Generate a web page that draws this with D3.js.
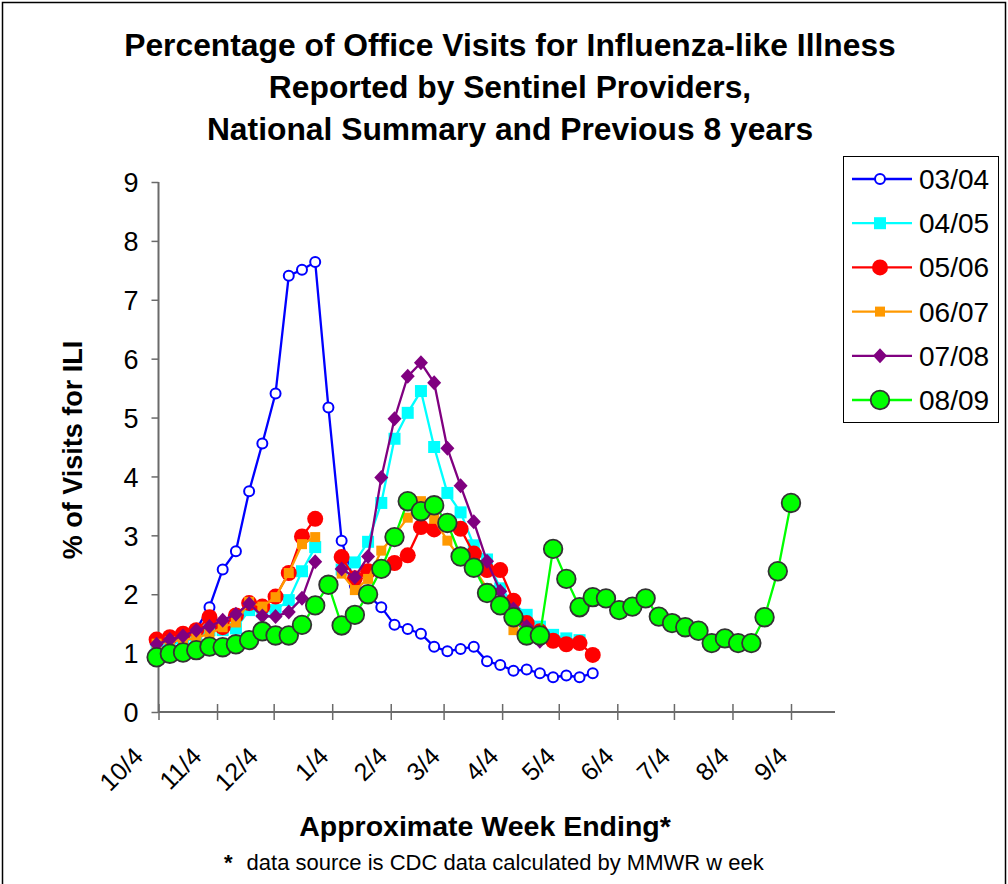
<!DOCTYPE html>
<html>
<head>
<meta charset="utf-8">
<script src="https://cdn.jsdelivr.net/npm/d3@7"></script>
<style>
  html, body { margin: 0; padding: 0; background: #fff; }
  svg { display: block; font-family: "Liberation Sans", Arial, sans-serif; }
</style>
</head>
<body>
<svg id="chart" width="1008" height="884"></svg>
<script>
// Season labels (legend order)
const seasons = ["03/04", "04/05", "05/06", "06/07", "07/08", "08/09"];

// Weekly % ILI, one value per MMWR week starting early October; null = no report
const ili0304 = [1.15, 1.20, 1.30, 1.40, 1.78, 2.42, 2.73, 3.75, 4.56, 5.41, 7.41, 7.51, 7.64, 5.17, 2.91,
  2.15, 1.98, 1.78, 1.48, 1.41, 1.33, 1.11, 1.03, 1.07, 1.11, 0.86, 0.80, 0.70, 0.72, 0.66, 0.59, 0.62, 0.59, 0.66];
const ili0405 = [1.10, 1.15, 1.20, 1.25, 1.39, 1.39, 1.42, 1.73, 1.70, 1.73, 1.90, 2.39, 2.80, null, 2.42,
  2.54, 2.89, 3.55, 4.64, 5.08, 5.45, 4.50, 3.72, 3.39, 2.83, 2.59, 2.10, 1.85, 1.65, 1.45, 1.31, 1.25, 1.22];
const ili0506 = [1.23, 1.27, 1.33, 1.39, 1.61, 1.44, 1.64, 1.85, 1.79, 1.96, 2.36, 2.98, 3.28, null, 2.63,
  2.27, 2.39, 2.46, 2.53, 2.66, 3.14, 3.10, 3.18, 3.11, 2.69, 2.41, 2.41, 1.89, 1.51, 1.37, 1.21, 1.15, 1.17, 0.97];
const ili0607 = [1.16, 1.20, 1.22, 1.26, 1.33, 1.44, 1.52, 1.87, 1.79, 1.95, 2.36, 2.85, 2.97, null, 2.35,
  2.07, 2.26, 2.74, 3.00, 3.30, 3.58, 3.28, 2.91, 2.60, 2.45, 2.10, 1.80, 1.39];
const ili0708 = [1.15, 1.23, 1.29, 1.39, 1.45, 1.56, 1.66, 1.84, 1.63, 1.62, 1.70, 1.93, 2.55, null, 2.43,
  2.29, 2.64, 3.98, 4.98, 5.70, 5.93, 5.59, 4.48, 3.84, 3.23, 2.56, 2.05, 1.75, 1.45, 1.20];
const ili0809 = [0.93, 0.99, 1.01, 1.05, 1.11, 1.10, 1.15, 1.22, 1.37, 1.30, 1.30, 1.48, 1.81, 2.16, 1.47,
  1.65, 2.00, 2.43, 2.97, 3.58, 3.41, 3.51, 3.21, 2.64, 2.45, 2.02, 1.81, 1.61, 1.30, 1.30, 2.77, 2.26, 1.78,
  1.95, 1.93, 1.73, 1.79, 1.93, 1.62, 1.51, 1.44, 1.38, 1.17, 1.25, 1.17, 1.17, 1.61, 2.39, 3.55];

// Month tick labels along the date axis
const monthLabels = ["10/4", "11/4", "12/4", "1/4", "2/4", "3/4", "4/4", "5/4", "6/4", "7/4", "8/4", "9/4"];
const yTicks = [0, 1, 2, 3, 4, 5, 6, 7, 8, 9];

const firstWeek = new Date(2008, 9, 3);
const monthDates = monthLabels.map(m => {
  const [mo, d] = m.split("/").map(Number);
  return new Date(mo >= 10 ? 2008 : 2009, mo - 1, d);
});

const styles = [
  { color: "#0000FF", shape: "hollow", r: 5 },
  { color: "#00FFFF", shape: "square", size: 12 },
  { color: "#FF0000", shape: "circle", r: 8 },
  { color: "#FF9900", shape: "square", size: 10 },
  { color: "#800080", shape: "diamond", size: 10 },
  { color: "#00FF00", shape: "ring", r: 9.3 }
];
const seriesValues = [ili0304, ili0405, ili0506, ili0607, ili0708, ili0809];

const svg = d3.select("#chart");

// outer frame
svg.append("rect").attr("x", 2.5).attr("y", 2.5).attr("width", 1003).attr("height", 900)
  .attr("fill", "none").attr("stroke", "#000").attr("stroke-width", 1.5);

// title
const titleLines = ["Percentage of Office Visits for Influenza-like Illness",
  "Reported by Sentinel Providers,",
  "National Summary and Previous 8 years"];
svg.append("g").selectAll("text").data(titleLines).join("text")
  .attr("x", 510).attr("y", (d, i) => 56 + i * 42)
  .attr("text-anchor", "middle").attr("font-weight", "bold").attr("font-size", 31.8)
  .text(d => d);

const x = d3.scaleTime().domain([monthDates[0], monthDates[monthDates.length - 1]]).range([158.5, 791]);
const y = d3.scaleLinear().domain([0, 9]).range([712, 182]);
const xEnd = 835;

const axisColor = "#6a6a6a";

// y axis
const yAxis = svg.append("g").attr("transform", "translate(158.5,0)")
  .call(d3.axisLeft(y).tickValues(yTicks).tickSize(7).tickFormat(d3.format("d")));
yAxis.select(".domain").attr("stroke", axisColor).attr("stroke-width", 2).attr("d", `M0,${y(9)}V${y(0)}`);
yAxis.selectAll(".tick line").attr("stroke", axisColor).attr("stroke-width", 1.5);
yAxis.selectAll(".tick text").attr("font-size", 27).attr("font-family", "Liberation Sans, Arial, sans-serif")
  .attr("fill", "#000").attr("x", -20).attr("dy", "0.36em");

// x axis
const xAxis = svg.append("g").attr("transform", `translate(0,${y(0)})`)
  .call(d3.axisBottom(x).tickValues(monthDates).tickSizeInner(7).tickSizeOuter(0).tickFormat(""));
xAxis.select(".domain").attr("stroke", axisColor).attr("stroke-width", 2).attr("d", `M158.5,0H${xEnd}`);
xAxis.selectAll(".tick line").attr("stroke", axisColor).attr("stroke-width", 1.5).attr("y1", -8).attr("y2", 8);

svg.append("g").selectAll("text").data(monthDates).join("text")
  .attr("transform", (d, i) => `translate(${x(d) - (monthLabels[i].length > 3 ? 14 : 2)},${y(0) + 46}) rotate(-45)`)
  .attr("text-anchor", "end").attr("font-size", 25)
  .text((d, i) => monthLabels[i]);

// axis titles
svg.append("text").attr("transform", "translate(82,450) rotate(-90)")
  .attr("text-anchor", "middle").attr("font-weight", "bold").attr("font-size", 27)
  .text("% of Visits for ILI");
svg.append("text").attr("x", 485).attr("y", 836)
  .attr("text-anchor", "middle").attr("font-weight", "bold").attr("font-size", 28.5)
  .text("Approximate Week Ending*");
const foot = svg.append("text").attr("x", 224).attr("y", 870).attr("font-size", 22);
foot.append("tspan").attr("font-weight", "bold").text("*");
foot.append("tspan").attr("dx", 14).text("data source is CDC data calculated by MMWR w eek");

// markers
function drawMarker(g, st, cx, cy) {
  if (st.shape === "hollow") {
    g.append("circle").attr("cx", cx).attr("cy", cy).attr("r", st.r)
      .attr("fill", "#fff").attr("stroke", st.color).attr("stroke-width", 2);
  } else if (st.shape === "square") {
    g.append("rect").attr("x", cx - st.size / 2).attr("y", cy - st.size / 2)
      .attr("width", st.size).attr("height", st.size).attr("fill", st.color);
  } else if (st.shape === "circle") {
    g.append("circle").attr("cx", cx).attr("cy", cy).attr("r", st.r).attr("fill", st.color);
  } else if (st.shape === "diamond") {
    const s = st.size;
    g.append("path").attr("d", `M${cx},${cy - s * 0.75}L${cx + s * 0.7},${cy}L${cx},${cy + s * 0.75}L${cx - s * 0.7},${cy}Z`)
      .attr("fill", st.color);
  } else if (st.shape === "ring") {
    g.append("circle").attr("cx", cx).attr("cy", cy).attr("r", st.r)
      .attr("fill", st.color).attr("stroke", "#333").attr("stroke-width", 1.8);
  }
}

const weekDate = i => d3.timeDay.offset(firstWeek, 7 * i);
const line = d3.line()
  .defined(d => d.v !== null)
  .x(d => x(d.date)).y(d => y(d.v));

const plot = svg.append("g");
seriesValues.forEach((vals, si) => {
  const st = styles[si];
  const pts = vals.map((v, i) => ({ date: weekDate(i), v }));
  const g = plot.append("g");
  g.append("path").attr("d", line(pts)).attr("fill", "none")
    .attr("stroke", st.color).attr("stroke-width", 2.3);
  pts.filter(p => p.v !== null).forEach(p => drawMarker(g, st, x(p.date), y(p.v)));
});

// legend
const lg = svg.append("g");
lg.append("rect").attr("x", 843.5).attr("y", 156.5).attr("width", 155).attr("height", 266)
  .attr("fill", "#fff").attr("stroke", "#000").attr("stroke-width", 1);
seasons.forEach((s, i) => {
  const cy = 179 + i * 44.2;
  const st = styles[i];
  lg.append("line").attr("x1", 852).attr("x2", 912).attr("y1", cy).attr("y2", cy)
    .attr("stroke", st.color).attr("stroke-width", 2.3);
  drawMarker(lg, st, 880, cy);
  lg.append("text").attr("x", 919).attr("y", cy + 10).attr("font-size", 28).text(s);
});
</script>
</body>
</html>
